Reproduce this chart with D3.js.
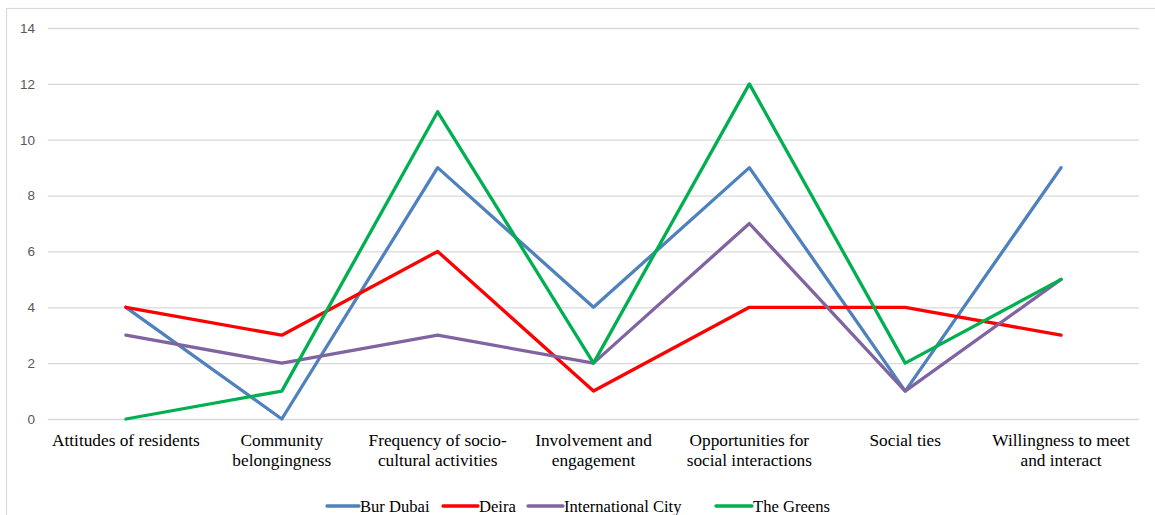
<!DOCTYPE html>
<html>
<head>
<meta charset="utf-8">
<script src="https://cdn.jsdelivr.net/npm/d3@7"></script>
<style>
  html, body { margin: 0; padding: 0; background: #fff; }
  svg { display: block; }
</style>
</head>
<body>
<svg id="chart" width="1155" height="515"></svg>
<script>
// Category labels (line breaks as shown on the axis)
const categories = [
  ["Attitudes of residents"],
  ["Community", "belongingness"],
  ["Frequency of socio-", "cultural activities"],
  ["Involvement and", "engagement"],
  ["Opportunities for", "social interactions"],
  ["Social ties"],
  ["Willingness to meet", "and interact"]
];
const seriesNames = ["Bur Dubai", "Deira", "International City", "The Greens"];
const burDubai = [4, 0, 9, 4, 9, 1, 9];
const deira = [4, 3, 6, 1, 4, 4, 3];
const internationalCity = [3, 2, 3, 2, 7, 1, 5];
const theGreens = [0, 1, 11, 2, 12, 2, 5];
const yTicks = [0, 2, 4, 6, 8, 10, 12, 14];
const colors = ["#4F81BD", "#FF0000", "#8064A2", "#00B050"];

const series = [burDubai, deira, internationalCity, theGreens];

const svg = d3.select("#chart");
const W = 1155, H = 515;
const plot = { left: 48, right: 1139, top: 28, bottom: 419 };

// Chart frame
svg.append("rect")
  .attr("x", 6.5).attr("y", 8.5)
  .attr("width", W + 20).attr("height", H + 20)
  .attr("fill", "#fff").attr("stroke", "#d9d9d9").attr("stroke-width", 1.2);

const x = d3.scaleBand()
  .domain(d3.range(categories.length))
  .range([plot.left, plot.right])
  .paddingInner(0).paddingOuter(0);

const y = d3.scaleLinear().domain([0, 14]).range([plot.bottom, plot.top]);

// Horizontal gridlines
const yAxis = d3.axisLeft(y).tickValues(yTicks).tickSize(-(plot.right - plot.left)).tickPadding(13);
const gy = svg.append("g").attr("transform", `translate(${plot.left},0)`).call(yAxis);
gy.select(".domain").remove();
gy.selectAll(".tick line").attr("stroke", "#d9d9d9").attr("stroke-width", 1.3);
gy.selectAll(".tick text")
  .attr("fill", "#595959")
  .style("font-family", "'Liberation Sans', Arial, sans-serif")
  .style("font-size", "13.5px");

// Category labels
const xAxis = d3.axisBottom(x).tickSize(0).tickFormat(() => "");
const gx = svg.append("g").attr("transform", `translate(0,${plot.bottom})`).call(xAxis);
gx.select(".domain").remove();
gx.selectAll(".tick").each(function(d) {
  const t = d3.select(this).append("text")
    .attr("text-anchor", "middle")
    .attr("fill", "#000")
    .style("font-family", "'Liberation Serif', 'Times New Roman', serif")
    .style("font-size", "17.3px");
  categories[d].forEach((line, i) => {
    t.append("tspan").attr("x", 0).attr("y", 27 + i * 20).text(line);
  });
});

// Series lines
const line = d3.line()
  .x((d, i) => x(i) + x.bandwidth() / 2)
  .y(d => y(d));

series.forEach((vals, k) => {
  svg.append("path")
    .datum(vals)
    .attr("fill", "none")
    .attr("stroke", colors[k])
    .attr("stroke-width", 3.3)
    .attr("stroke-linejoin", "round")
    .attr("stroke-linecap", "round")
    .attr("d", line);
});

// Legend
const legendItems = [
  { x: 327, w: 32 },
  { x: 443, w: 35 },
  { x: 528, w: 35 },
  { x: 716, w: 36 }
];
const lg = svg.append("g").attr("transform", "translate(0,506)");
seriesNames.forEach((name, k) => {
  const it = legendItems[k];
  lg.append("line")
    .attr("x1", it.x).attr("x2", it.x + it.w)
    .attr("y1", 0).attr("y2", 0)
    .attr("stroke", colors[k]).attr("stroke-width", 3.3)
    .attr("stroke-linecap", "round");
  lg.append("text")
    .attr("x", it.x + it.w + 1).attr("y", 5.5)
    .attr("fill", "#000")
    .style("font-family", "'Liberation Serif', 'Times New Roman', serif")
    .style("font-size", "16.6px")
    .text(name);
});
</script>
</body>
</html>
